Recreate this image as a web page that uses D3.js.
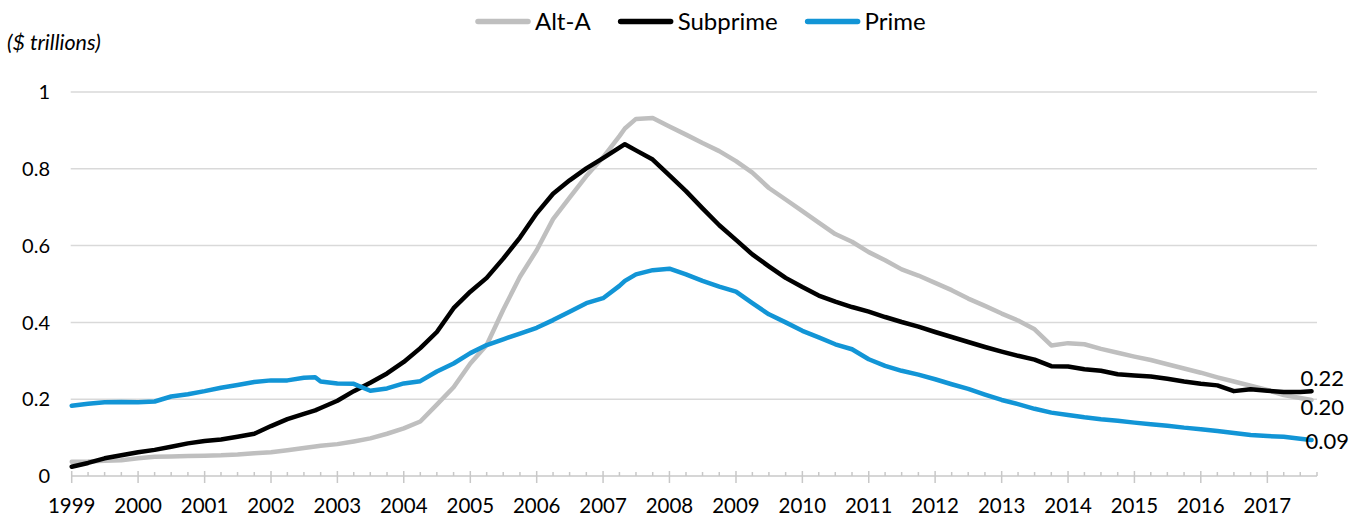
<!DOCTYPE html>
<html>
<head>
<meta charset="utf-8">
<script src="https://cdn.jsdelivr.net/npm/d3@7"></script>
<style>
  body { margin: 0; background: #fff; }
  svg { font-family: Lato, "Open Sans", sans-serif; }
  .grid line { stroke: #d9d9d9; stroke-width: 1.5; }
  .series { fill: none; stroke-width: 4.5; stroke-linejoin: round; stroke-linecap: round; }
</style>
</head>
<body>
<svg id="chart" width="1365" height="520"></svg>
<script>
// quarterly points, a couple of extra months where the lines turn sharply
const dates = [
  "1999-01", "1999-04", "1999-07", "1999-10",
  "2000-01", "2000-04", "2000-07", "2000-10",
  "2001-01", "2001-04", "2001-07", "2001-10",
  "2002-01", "2002-04", "2002-07", "2002-09", "2002-10",
  "2003-01", "2003-04", "2003-07", "2003-10",
  "2004-01", "2004-04", "2004-07", "2004-10",
  "2005-01", "2005-04", "2005-07", "2005-10",
  "2006-01", "2006-04", "2006-07", "2006-10",
  "2007-01", "2007-04", "2007-05", "2007-07", "2007-10",
  "2008-01", "2008-04", "2008-07", "2008-10",
  "2009-01", "2009-04", "2009-07", "2009-10",
  "2010-01", "2010-04", "2010-07", "2010-10",
  "2011-01", "2011-04", "2011-07", "2011-10",
  "2012-01", "2012-04", "2012-07", "2012-10",
  "2013-01", "2013-04", "2013-07", "2013-10",
  "2014-01", "2014-04", "2014-07", "2014-10",
  "2015-01", "2015-04", "2015-07", "2015-10",
  "2016-01", "2016-04", "2016-07", "2016-10",
  "2017-01", "2017-04", "2017-07", "2017-09"
];

const altA = [
  0.037, 0.038, 0.040, 0.041,
  0.046, 0.050, 0.051, 0.052,
  0.053, 0.054, 0.056, 0.059,
  0.062, 0.067, 0.073, 0.077, 0.079,
  0.083, 0.090, 0.098, 0.110,
  0.124, 0.142, 0.186, 0.231,
  0.293, 0.341, 0.433, 0.519,
  0.588, 0.669, 0.725, 0.781,
  0.830, 0.885, 0.905, 0.930, 0.932,
  0.910, 0.889, 0.867, 0.846,
  0.820, 0.790, 0.750, 0.720,
  0.690, 0.660, 0.630, 0.610,
  0.583, 0.562, 0.538, 0.522,
  0.503, 0.484, 0.462, 0.443,
  0.423, 0.405, 0.382, 0.340,
  0.346, 0.343, 0.331, 0.321,
  0.311, 0.302, 0.291, 0.280,
  0.269, 0.257, 0.246, 0.235,
  0.224, 0.211, 0.203, 0.198
];

const subprime = [
  0.024, 0.034, 0.046, 0.054,
  0.062, 0.068, 0.076, 0.085,
  0.091, 0.095, 0.102, 0.110,
  0.130, 0.148, 0.162, 0.171, 0.177,
  0.196, 0.221, 0.243, 0.267,
  0.297, 0.333, 0.375, 0.437,
  0.480, 0.516, 0.566, 0.621,
  0.684, 0.735, 0.770, 0.801,
  0.828, 0.855, 0.864, 0.848, 0.824,
  0.783, 0.742, 0.697, 0.653,
  0.615, 0.577, 0.546, 0.516,
  0.492, 0.470, 0.454, 0.440,
  0.428, 0.414, 0.401, 0.389,
  0.375, 0.362, 0.349, 0.336,
  0.324, 0.313, 0.303, 0.286,
  0.285, 0.278, 0.274, 0.265,
  0.262, 0.259, 0.253, 0.246,
  0.240, 0.236, 0.221, 0.226,
  0.222, 0.219, 0.219, 0.221
];

const prime = [
  0.183, 0.188, 0.192, 0.193,
  0.192, 0.194, 0.207, 0.213,
  0.221, 0.230, 0.237, 0.245,
  0.249, 0.249, 0.256, 0.257, 0.246,
  0.241, 0.240, 0.222, 0.228,
  0.241, 0.247, 0.272, 0.293,
  0.320, 0.341, 0.356, 0.371,
  0.386, 0.406, 0.428, 0.450,
  0.463, 0.495, 0.508, 0.525, 0.536,
  0.540, 0.525, 0.508, 0.493,
  0.480, 0.450, 0.421, 0.400,
  0.378, 0.361, 0.343, 0.330,
  0.304, 0.287, 0.274, 0.264,
  0.252, 0.239, 0.227, 0.212,
  0.198, 0.187, 0.175, 0.165,
  0.159, 0.153, 0.148, 0.144,
  0.139, 0.135, 0.131, 0.126,
  0.122, 0.117, 0.112, 0.107,
  0.104, 0.102, 0.097, 0.094
];

const yTicks = [0, 0.2, 0.4, 0.6, 0.8, 1];
const yTickLabels = ["0", "0.2", "0.4", "0.6", "0.8", "1"];

const seriesNames = ["Alt-A", "Subprime", "Prime"];
const seriesValues = [altA, subprime, prime];
const seriesColors = ["#bfbfbf", "#000000", "#1295d6"];

const parseDate = d3.timeParse("%Y-%m");
const svg = d3.select("#chart");

const x = d3.scaleTime()
    .domain([parseDate("1999-01"), parseDate("2017-10")])
    .range([71.7, 1317]);
const y = d3.scaleLinear()
    .domain([0, 1])
    .range([476, 92]);

// gridlines
svg.append("g")
    .attr("class", "grid")
    .selectAll("line")
    .data(yTicks.slice(1))
    .enter().append("line")
    .attr("x1", x.range()[0] - 1)
    .attr("x2", x.range()[1])
    .attr("y1", d => y(d))
    .attr("y2", d => y(d));

// y labels
svg.append("g")
    .selectAll("text")
    .data(yTicks)
    .enter().append("text")
    .attr("x", 50)
    .attr("y", d => y(d))
    .attr("dy", "0.36em")
    .attr("text-anchor", "end")
    .style("font-size", "20px")
    .text((d, i) => yTickLabels[i]);

svg.append("text")
    .attr("x", 7)
    .attr("y", 50)
    .style("font-size", "21.5px")
    .style("font-style", "italic")
    .text("($ trillions)");

// x axis: line, major ticks crossing, quarterly minor ticks inside
const axisG = svg.append("g").attr("stroke", "#c8c8c8").attr("stroke-width", 1.5);
axisG.append("line")
    .attr("x1", x.range()[0]).attr("x2", x.range()[1])
    .attr("y1", y(0)).attr("y2", y(0));

const quarters = d3.timeMonth.every(3).range(x.domain()[0], d3.timeDay.offset(x.domain()[1], 1));
axisG.selectAll(".minor")
    .data(quarters.filter(d => d.getMonth() !== 0))
    .enter().append("line")
    .attr("x1", d => x(d)).attr("x2", d => x(d))
    .attr("y1", y(0) - 4).attr("y2", y(0));

const years = d3.timeYear.range(x.domain()[0], x.domain()[1]);
axisG.selectAll(".major")
    .data(years)
    .enter().append("line")
    .attr("x1", d => x(d)).attr("x2", d => x(d))
    .attr("y1", y(0) - 5).attr("y2", y(0) + 7);

svg.append("g")
    .selectAll("text")
    .data(years)
    .enter().append("text")
    .attr("x", d => x(d))
    .attr("y", 513)
    .attr("text-anchor", "middle")
    .style("font-size", "20.5px")
    .text(d3.timeFormat("%Y"));

// series lines
const line = d3.line()
    .x((d, i) => x(parseDate(dates[i])))
    .y(d => y(d));

svg.append("g")
    .selectAll("path")
    .data(seriesValues)
    .enter().append("path")
    .attr("class", "series")
    .attr("stroke", (d, i) => seriesColors[i])
    .attr("d", line);

// end-of-line value labels
const lastDate = parseDate(dates[dates.length - 1]);
const endOffsets = [[-11, 15], [-11, -5], [-6, 9]];
svg.append("g")
    .selectAll("text")
    .data(seriesValues)
    .enter().append("text")
    .attr("x", (d, i) => x(lastDate) + endOffsets[i][0])
    .attr("y", (d, i) => y(d[d.length - 1]) + endOffsets[i][1])
    .style("font-size", "22px")
    .text(d => d3.format(".2f")(d[d.length - 1]));

// legend
const legend = svg.append("g");
let lx = 475;
seriesNames.forEach((name, i) => {
    legend.append("line")
        .attr("x1", lx + 3).attr("x2", lx + 53)
        .attr("y1", 21.5).attr("y2", 21.5)
        .attr("stroke", seriesColors[i])
        .attr("stroke-width", 5.5)
        .attr("stroke-linecap", "round");
    const t = legend.append("text")
        .attr("x", lx + 60)
        .attr("y", 29.5)
        .style("font-size", "24px")
        .text(name);
    lx += 60 + t.node().getComputedTextLength() + 27;
});
</script>
</body>
</html>
